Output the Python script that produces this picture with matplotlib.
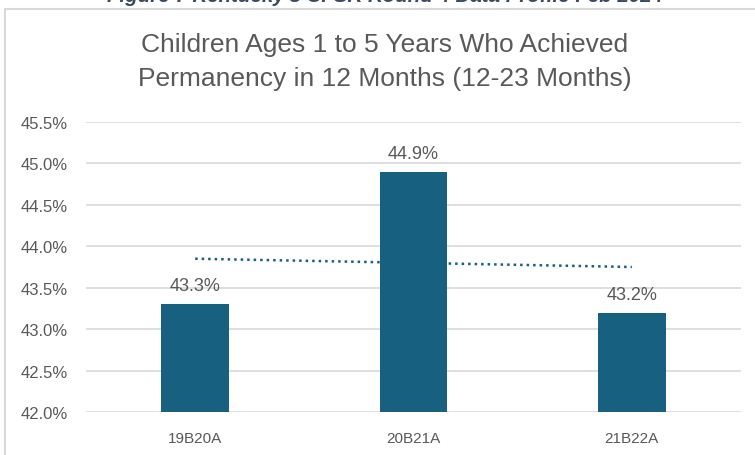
import matplotlib
matplotlib.use("Agg")
import matplotlib.pyplot as plt
import numpy as np
from matplotlib.patches import Rectangle

categories = ["19B20A", "20B21A", "21B22A"]
values = [43.3, 44.9, 43.2]
yticks = [42.0, 42.5, 43.0, 43.5, 44.0, 44.5, 45.0, 45.5]
title = "Children Ages 1 to 5 Years Who Achieved\nPermanency in 12 Months (12-23 Months)"
caption = "Figure 7 Kentucky's CFSR Round 4 Data Profile Feb 2024"

plt.rcParams['font.family'] = ['Liberation Sans', 'DejaVu Sans']

W, H = 755, 456
fig = plt.figure(figsize=(W / 100, H / 100), dpi=100)
fig.patch.set_facecolor("white")

# border of the chart area
fig.patches.append(Rectangle((5 / W, -0.1), 1.2, (H - 10) / H + 0.1, transform=fig.transFigure,
                             fill=False, edgecolor="#D9D9D9", linewidth=1.5))
# caption cut off at the top
fig.text(385 / W, 1 - 2.5 / H, caption, ha="center", va="baseline", fontsize=14.8,
         fontweight="bold", style="italic", color="#3A4A60")

ax = fig.add_axes([86 / W, (H - 413) / H, (741 - 86) / W, (413 - 123) / H])
x = np.arange(len(categories))
bar_color = "#17607F"
ax.bar(x, values, width=0.31, color=bar_color, zorder=3)
ax.set_xlim(-0.5, len(categories) - 0.5)
ax.set_ylim(42.0, 45.5)
ax.set_yticks(yticks)
ax.set_yticklabels([f"{v:.1f}%" for v in yticks], fontsize=12, color="#595959")
ax.set_xticks(x)
ax.set_xticklabels(categories, fontsize=11, color="#595959")
ax.tick_params(axis="both", length=0)
ax.tick_params(axis="y", pad=13)
ax.tick_params(axis="x", pad=14)
ax.grid(axis="y", color="#D9D9D9", linewidth=1.2, zorder=0)
for s in ax.spines.values():
    s.set_visible(False)

# linear trendline
coef = np.polyfit(x, values, 1)
ax.plot(x, np.polyval(coef, x), color=bar_color, linestyle=(0, (1, 1.6)), linewidth=1.8, zorder=4)

for xi, v in zip(x, values):
    ax.annotate(f"{v:.1f}%", (xi, v), xytext=(0, 10), textcoords="offset points",
                ha="center", va="baseline", fontsize=13, color="#595959")

fig.text(385 / W, 1 - 62 / H, title, ha="center", va="center", fontsize=19,
         color="#595959", linespacing=1.55)

fig.savefig("out.png", dpi=100)
